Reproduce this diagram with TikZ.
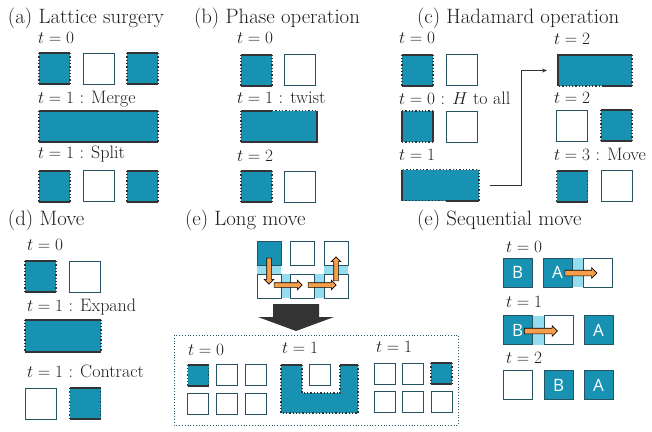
\documentclass[tikz,border=0pt]{standalone}
\usepackage{amsmath}
\usepackage{fontspec}
\newfontfamily\labelsans{Open Sans}
\usepackage{xcolor}
\usetikzlibrary{shapes.arrows,arrows.meta,calc,backgrounds}

\definecolor{patchblue}{RGB}{24,146,178}
\definecolor{edgegray}{RGB}{51,51,51}
\definecolor{cellline}{RGB}{38,82,98}
\definecolor{linkcyan}{RGB}{148,221,239}
\definecolor{arrorange}{RGB}{247,158,74}
\definecolor{textgray}{RGB}{30,30,30}

% top, right, bottom, left boundary of a patch
\newcommand{\patchedges}[5]{%
  \draw[#2] (#1.north west) -- (#1.north east);
  \draw[#3] (#1.north east) -- (#1.south east);
  \draw[#4] (#1.south west) -- (#1.south east);
  \draw[#5] (#1.north west) -- (#1.south west);}
\newcommand{\tstep}[1]{{\fontsize{17.5}{21}\selectfont$t=#1$}}

\begin{document}
\begin{tikzpicture}[x=1pt,y=-1pt,
  every node/.style={inner sep=0pt,outer sep=0pt,text=textgray},
  patch/.style={fill=patchblue,minimum width=31pt,minimum height=31pt},
  cell/.style={fill=white,draw=cellline,line width=0.8pt,minimum width=31pt,minimum height=31pt},
  qpatch/.style={patch,draw=cellline,line width=0.8pt,minimum size=29pt,text=white,
    font=\labelsans\fontsize{17}{20}\selectfont},
  title/.style={anchor=base west,font=\rmfamily\fontsize{20.8}{24}\selectfont},
  tlabel/.style={anchor=base west,font=\rmfamily\fontsize{18}{21}\selectfont},
  zb/.style={draw=edgegray,line width=2pt},
  xb/.style={draw=edgegray,line width=1.3pt,dotted},
  oarrow/.style={single arrow,draw=black,fill=arrorange,line width=0.6pt,inner sep=2pt,
    single arrow head extend=2.5pt,single arrow head indent=0pt},
  link/.style={fill=linkcyan,draw=none}]
\useasboundingbox (0,0) rectangle (652,431);

% (a) lattice surgery
\node[title] (ta) at (8,23) {(a) Lattice surgery};
\node[tlabel] (la1) at (38,43) {\tstep{0}};
\node[patch] (a1) at (54.5,68.5) {};
\node[cell]  (a2) at (98.5,68.5) {};
\node[patch] (a3) at (142.5,68.5) {};
\node[tlabel] (la2) at (38,103) {\tstep{1} : Merge};
\node[patch,minimum width=119pt] (a4) at (98.5,126) {};
\node[tlabel] (la3) at (38,158) {\tstep{1} : Split};
\node[patch] (a5) at (54.5,186) {};
\node[cell]  (a6) at (98.5,186) {};
\node[patch] (a7) at (142.5,186) {};
\foreach \p in {a1,a3,a4,a5,a7}{\patchedges{\p}{zb}{xb}{zb}{xb}}

% (b) phase operation
\node[title] (tb) at (194,23) {(b) Phase operation};
\node[tlabel] (lb1) at (237,43) {\tstep{0}};
\node[patch] (b1) at (256.5,70) {};
\node[cell]  (b2) at (300,70) {};
\node[tlabel] (lb2) at (237,103) {\tstep{1} : twist};
\node[patch,minimum width=76pt] (b3) at (279,126) {};
\node[tlabel] (lb3) at (237,161) {\tstep{2}};
\node[patch] (b4) at (256.5,186.5) {};
\node[cell]  (b5) at (300,186.5) {};
\patchedges{b1}{zb}{xb}{zb}{xb}
\patchedges{b4}{zb}{xb}{zb}{xb}
\draw[zb] (b3.north west) -- ($(b3.north west)!0.41!(b3.north east)$);
\draw[xb] ($(b3.north west)!0.41!(b3.north east)$) -- (b3.north east);
\draw[zb] (b3.north east) -- (b3.south east) -- (b3.south west);
\draw[xb] (b3.south west) -- (b3.north west);

% (c) hadamard operation
\node[title] (tc) at (417,23) {(c) Hadamard operation};
\node[tlabel] (lc1) at (399,43) {\tstep{0}};
\node[patch] (c1) at (417.5,70) {};
\node[cell]  (c2) at (461.5,70) {};
\node[tlabel] (lc2) at (399,104) {\tstep{0} : $H$ to all};
\node[patch] (c3) at (417.5,126.5) {};
\node[cell]  (c4) at (461.5,126.5) {};
\node[tlabel] (lc3) at (399,160) {\tstep{1}};
\node[patch,minimum width=77pt] (c5) at (440.5,185) {};
\patchedges{c1}{zb}{xb}{zb}{xb}
\patchedges{c3}{xb}{zb}{xb}{zb}
\draw[xb] (c5.south west) -- ($(c5.south west)!0.57!(c5.south east)$);
\draw[zb] ($(c5.south west)!0.57!(c5.south east)$) -- (c5.south east);
\draw[xb] (c5.south east) -- (c5.north east) -- (c5.north west);
\draw[zb] (c5.north west) -- (c5.south west);

\node[tlabel] (lc4) at (554,44) {\tstep{2}};
\node[patch,minimum width=74pt] (c6) at (595,70.5) {};
\node[tlabel] (lc5) at (554,103) {\tstep{2}};
\node[cell]  (c7) at (572,125.5) {};
\node[patch] (c8) at (616.5,125.5) {};
\node[tlabel] (lc6) at (554,160) {\tstep{3} : Move};
\node[patch] (c9) at (572,186) {};
\node[cell]  (c10) at (616.5,186) {};
\draw[zb] (c6.south west) -- (c6.north west) -- (c6.north east);
\draw[xb] (c6.north east) -- (c6.south east);
\draw[zb] (c6.south east) -- ($(c6.south east)!0.39!(c6.south west)$);
\draw[xb] ($(c6.south east)!0.39!(c6.south west)$) -- (c6.south west);
\patchedges{c8}{zb}{xb}{zb}{xb}
\patchedges{c9}{zb}{xb}{zb}{xb}
\draw[edgegray,line width=0.8pt,-{Stealth[length=5pt,width=4pt]}]
  ([xshift=11pt]c5.east) -- ++(31,0) |- ([xshift=-11pt]c6.west);

% (d) move
\node[title] (td) at (8,225) {(d) Move};
\node[tlabel] (ld1) at (27,250) {\tstep{0}};
\node[patch] (d1) at (40.5,276.5) {};
\node[cell]  (d2) at (85,276.5) {};
\node[tlabel] (ld2) at (27,311) {\tstep{1} : Expand};
\node[patch,minimum width=76pt,minimum height=32pt] (d3) at (63,335.5) {};
\node[tlabel] (ld3) at (27,377) {\tstep{1} : Contract};
\node[cell]  (d4) at (40.5,403.5) {};
\node[patch] (d5) at (85,403.5) {};
\foreach \p in {d1,d3,d5}{\patchedges{\p}{zb}{xb}{zb}{xb}}

% (e) long move
\node[title] (te) at (185,225) {(e) Long move};
\node[patch,draw=cellline,line width=0.8pt,minimum size=24pt] (l11) at (269,253) {};
\node[cell,minimum size=24pt] (l12) at (302,253) {};
\node[cell,minimum size=24pt] (l13) at (336,253) {};
\node[cell,minimum size=24pt] (l21) at (269,286) {};
\node[cell,minimum size=24pt] (l22) at (302,286) {};
\node[cell,minimum size=24pt] (l23) at (336,286) {};
\begin{scope}[on background layer]
  \fill[link] (l11.south west) rectangle (l21.north east);
  \fill[link] (l21.north east) rectangle (l22.south west);
  \fill[link] (l22.north east) rectangle (l23.south west);
  \fill[link] (l13.south west) rectangle (l23.north east);
\end{scope}
\node[oarrow,minimum height=26pt,rotate=-90] (m1) at (269,270) {};
\node[oarrow,minimum height=28pt] (m2) at (287,285) {};
\node[oarrow,minimum height=28pt] (m3) at (321,285) {};
\node[oarrow,minimum height=24pt,rotate=90] (m4) at (336,270) {};
\fill[edgegray] (273,304) -- (319,304) -- (319,317) -- (334,317) -- (296,331)
  -- (258,317) -- (273,317) -- cycle;

\draw[cellline,line width=0.8pt,dotted] (174,335) rectangle (458,425);
\node[tlabel] (lg1) at (188,355) {\tstep{0}};
\node[patch,minimum size=21pt] (g11) at (198,375) {};
\node[cell,minimum size=21pt] (g12) at (227,375) {};
\node[cell,minimum size=21pt] (g13) at (255.5,375) {};
\node[cell,minimum size=21pt] (g21) at (198,403.5) {};
\node[cell,minimum size=21pt] (g22) at (227,403.5) {};
\node[cell,minimum size=21pt] (g23) at (255.5,403.5) {};
\patchedges{g11}{zb}{xb}{zb}{xb}

\node[tlabel] (lg2) at (282,353) {\tstep{1}};
\fill[patchblue] (281,365) -- (302,365) -- (302,393) -- (340,393) -- (340,365)
  -- (358,365) -- (358,413) -- (281,413) -- cycle;
\draw[xb] (302,365) -- (302,393) -- (340,393) -- (340,365)
  (358,365) -- (358,413) -- (281,413) -- (281,365);
\draw[zb] (281,365) -- (302,365) (340,365) -- (358,365);
\node[cell,minimum size=21pt] (u1) at (319.5,375) {};

\node[tlabel] (lg3) at (376,352) {\tstep{1}};
\node[cell,minimum size=21pt] (r11) at (385,373.5) {};
\node[cell,minimum size=21pt] (r12) at (413,373.5) {};
\node[patch,minimum size=21pt] (r13) at (441.5,373.5) {};
\node[cell,minimum size=21pt] (r21) at (385,402) {};
\node[cell,minimum size=21pt] (r22) at (413,402) {};
\node[cell,minimum size=21pt] (r23) at (441.5,402) {};
\patchedges{r13}{zb}{xb}{zb}{xb}

% (e) sequential move
\node[title] (ts) at (417,225) {(e) Sequential move};
\node[tlabel] (ls1) at (506,252) {\tstep{0}};
\node[qpatch] (s1) at (517.5,272.5) {B};
\node[qpatch] (s2) at (557.5,272.5) {A};
\node[cell,minimum size=29pt] (s3) at (597.5,272.5) {};
\node[tlabel] (ls2) at (506,307) {\tstep{1}};
\node[qpatch] (s4) at (517.5,330) {B};
\node[cell,minimum size=29pt] (s5) at (558.5,330) {};
\node[qpatch] (s6) at (598.5,330) {A};
\node[tlabel] (ls3) at (506,363) {\tstep{2}};
\node[cell,minimum size=29pt] (s7) at (517.5,385) {};
\node[qpatch] (s8) at (558.5,385) {B};
\node[qpatch] (s9) at (598.5,385) {A};
\begin{scope}[on background layer]
  \fill[link] (s2.north east) rectangle (s3.south west);
  \fill[link] (s4.north east) rectangle (s5.south west);
\end{scope}
\node[oarrow,inner sep=2.5pt,minimum height=32pt] (sa1) at (579.5,273) {};
\node[oarrow,inner sep=2.5pt,minimum height=33pt] (sa2) at (539.5,331) {};
\end{tikzpicture}
\end{document}
